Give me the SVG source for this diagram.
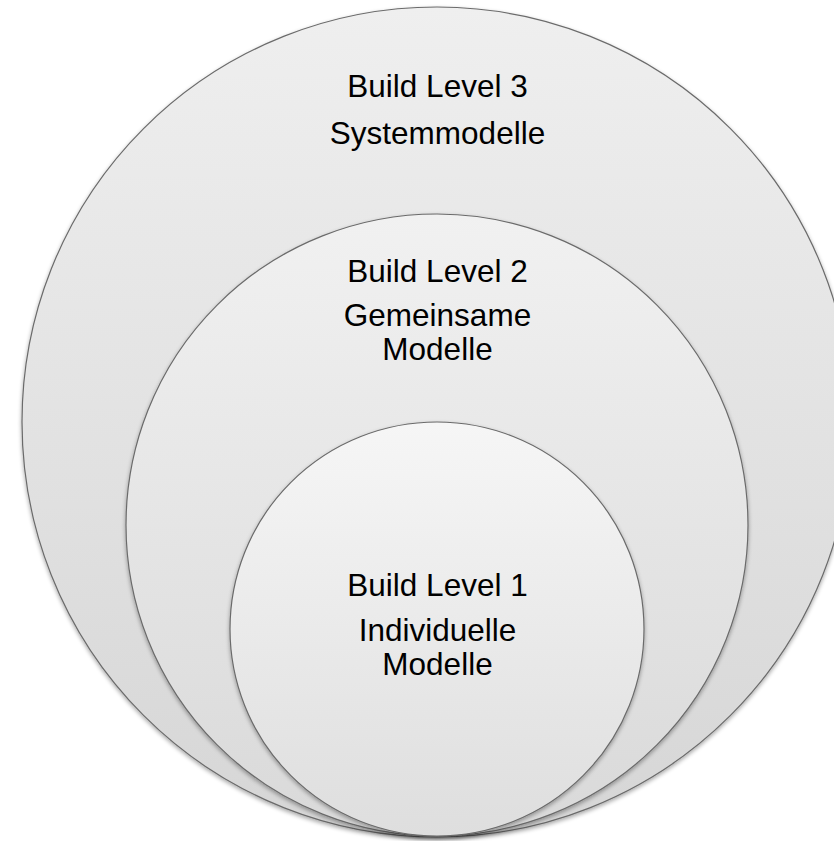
<svg xmlns="http://www.w3.org/2000/svg" width="834" height="841" viewBox="0 0 834 841">
<defs>
<linearGradient id="g3" x1="0" y1="0" x2="0" y2="1"><stop offset="0" stop-color="#efefef"/><stop offset="1" stop-color="#d6d6d6"/></linearGradient>
<linearGradient id="g2" x1="0" y1="0" x2="0" y2="1"><stop offset="0" stop-color="#f1f1f1"/><stop offset="1" stop-color="#d9d9d9"/></linearGradient>
<linearGradient id="g1" x1="0" y1="0" x2="0" y2="1"><stop offset="0" stop-color="#f6f6f6"/><stop offset="1" stop-color="#dedede"/></linearGradient>
<filter id="sh" x="-10%" y="-10%" width="120%" height="120%"><feGaussianBlur in="SourceAlpha" stdDeviation="2"/><feOffset dx="0" dy="2"/><feComponentTransfer><feFuncA type="linear" slope="0.35"/></feComponentTransfer><feMerge><feMergeNode/><feMergeNode in="SourceGraphic"/></feMerge></filter>
</defs>
<style>
.c{stroke:#6b6b6b;stroke-width:1.2;filter:url(#sh)}
.t{font-family:"Liberation Sans",Arial,sans-serif;font-size:31.5px;fill:#000;text-anchor:middle}
</style>
<rect width="834" height="841" fill="#ffffff"/>
<g id="level3">
<circle class="c" cx="437" cy="422" r="415" fill="url(#g3)"/>
<text class="t" x="437.5" y="97">Build Level 3</text>
<text class="t" x="437.5" y="144">Systemmodelle</text>
</g>
<g id="level2">
<circle class="c" cx="437" cy="525" r="311" fill="url(#g2)"/>
<text class="t" x="437.5" y="282">Build Level 2</text>
<text class="t" x="437.5" y="326">Gemeinsame</text>
<text class="t" x="437.5" y="360">Modelle</text>
</g>
<g id="level1">
<circle class="c" cx="437" cy="629" r="207" fill="url(#g1)"/>
<text class="t" x="437.5" y="596">Build Level 1</text>
<text class="t" x="437.5" y="641">Individuelle</text>
<text class="t" x="437.5" y="675">Modelle</text>
</g>
<g id="connectors"/>
</svg>
